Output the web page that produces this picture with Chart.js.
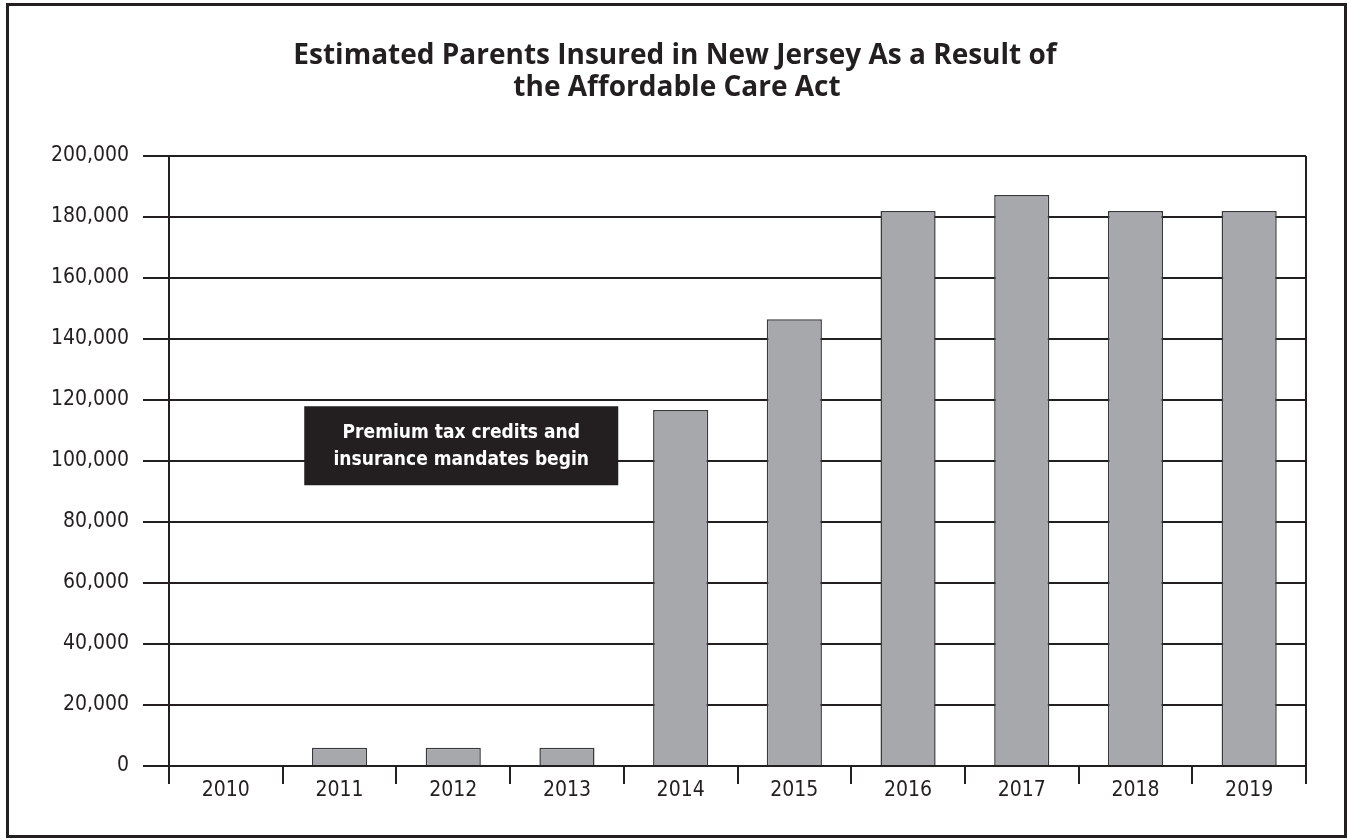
<!DOCTYPE html>
<html>
<head>
<meta charset="utf-8">
<script src="https://cdn.jsdelivr.net/npm/chart.js@4.4.0/dist/chart.umd.min.js"></script>
<style>
html,body{margin:0;padding:0;background:#fff;}
#wrap{width:1349px;height:840px;position:relative;}
canvas{display:block;}
</style>
</head>
<body>
<div id="wrap"><canvas id="c" width="1349" height="840"></canvas></div>
<script>
const categories = ['2010','2011','2012','2013','2014','2015','2016','2017','2018','2019'];
const parentsInsured = [0, 6000, 6000, 6000, 116700, 146500, 182000, 187200, 182000, 182000];
const yTicks = [0, 20000, 40000, 60000, 80000, 100000, 120000, 140000, 160000, 180000, 200000];
const titleLines = ['Estimated Parents Insured in New Jersey As a Result of', 'the Affordable Care Act'];
const noteLines = ['Premium tax credits and', 'insurance mandates begin'];

const INK = '#231f20';
const NARROW = "'Liberation Sans Narrow', 'DejaVu Sans Condensed', 'Arial Narrow', sans-serif";

const decor = {
  id: 'decor',
  afterDraw(chart) {
    const ctx = chart.ctx;
    const ca = chart.chartArea;
    const xs = chart.scales.x, ys = chart.scales.y;
    ctx.save();
    // outer frame
    ctx.strokeStyle = INK;
    ctx.lineWidth = 3;
    ctx.strokeRect(7.5, 4.5, 1338, 832);
    // right axis line
    ctx.lineWidth = 2;
    ctx.beginPath();
    ctx.moveTo(ca.right, ca.top);
    ctx.lineTo(ca.right, ca.bottom);
    ctx.stroke();
    // title
    ctx.fillStyle = INK;
    ctx.font = "bold 28px 'Open Sans', 'Noto Sans', sans-serif";
    ctx.textAlign = 'center';
    ctx.textBaseline = 'alphabetic';
    ctx.fillText(titleLines[0], 675, 64);
    ctx.fillText(titleLines[1], 677, 96);
    // annotation box
    const cx = xs.getPixelForValue(2) + 8;
    const cy = ys.getPixelForValue(105000);
    const w = 314, h = 79;
    ctx.fillStyle = INK;
    ctx.fillRect(cx - w / 2, cy - h / 2, w, h);
    ctx.fillStyle = '#ffffff';
    ctx.textBaseline = 'middle';
    ctx.font = "bold 19px " + NARROW;
    ctx.fillText(noteLines[0], cx, cy - 13);
    ctx.fillText(noteLines[1], cx, cy + 14);
    ctx.restore();
  }
};

new Chart(document.getElementById('c'), {
  type: 'bar',
  data: {
    labels: categories,
    datasets: [{
      data: parentsInsured,
      backgroundColor: '#a7a8ab',
      borderColor: '#3a3a3c',
      borderWidth: 1.5,
      barPercentage: 0.485,
      categoryPercentage: 1.0
    }]
  },
  options: {
    responsive: false,
    animation: false,
    devicePixelRatio: 1,
    layout: { padding: { left: 0, right: 43, top: 156, bottom: 22 } },
    plugins: { legend: { display: false }, title: { display: false }, tooltip: { enabled: false } },
    scales: {
      x: {
        offset: true,
        grid: { offset: true, drawOnChartArea: false, drawTicks: true, tickLength: 18, color: INK, lineWidth: 2 },
        border: { display: true, color: INK, width: 2 },
        ticks: { color: INK, font: { family: NARROW, size: 21 }, padding: -6, maxRotation: 0 },
        afterFit(s) { s.height = 52; }
      },
      y: {
        min: 0, max: 200000,
        afterBuildTicks(s) { s.ticks = yTicks.map(v => ({ value: v })); },
        grid: { drawOnChartArea: true, drawTicks: true, tickLength: 26, color: INK, lineWidth: 2 },
        border: { display: true, color: INK, width: 2 },
        ticks: { color: INK, font: { family: NARROW, size: 21 }, padding: 14,
          callback: v => v.toLocaleString('en-US') },
        afterFit(s) { s.width = 169; }
      }
    }
  },
  plugins: [decor]
});
</script>
</body>
</html>
